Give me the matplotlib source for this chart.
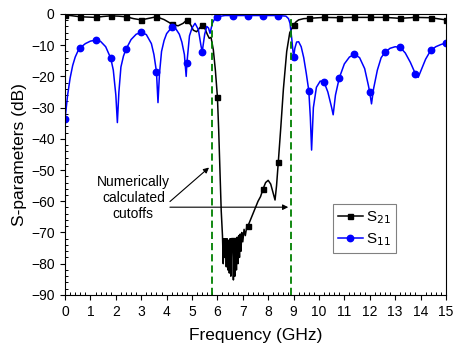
import numpy as np
import matplotlib
matplotlib.use('Agg')
import matplotlib.pyplot as plt
from matplotlib.ticker import MultipleLocator

plt.rcParams['font.family'] = ['Liberation Sans', 'DejaVu Sans']

# ==== S21 (transmission) ====
s21_freq = [0.0, 0.3, 0.6, 0.9, 1.2, 1.5, 1.8, 2.1, 2.4, 2.7, 3.0, 3.3, 3.6, 3.9, 4.2,
            4.45, 4.65, 4.8, 4.95, 5.05, 5.18, 5.3, 5.4, 5.5, 5.6, 5.68, 5.75, 5.84,
            5.92, 6.0, 6.05, 6.1, 6.15, 6.2,
            6.23, 6.26, 6.29, 6.32, 6.35, 6.38, 6.41, 6.44, 6.47, 6.5, 6.53, 6.56,
            6.6, 6.63, 6.66, 6.69, 6.72, 6.75, 6.78, 6.81, 6.84, 6.87, 6.9, 6.93,
            6.96, 7.0, 7.05, 7.1, 7.15, 7.2, 7.3, 7.4, 7.5, 7.6, 7.7, 7.8, 7.9, 8.0,
            8.1, 8.2, 8.27, 8.33, 8.4, 8.5, 8.6, 8.73, 8.85, 9.0, 9.1, 9.2, 9.4, 9.6,
            10.2, 10.8, 11.4, 12.0, 12.6, 13.2, 13.8, 14.4, 15.0]
s21_db = [-0.3, -0.6, -0.9, -1.0, -1.1, -0.8, -0.6, -0.7, -0.9, -1.5, -1.9, -1.4, -0.9, -1.8, -3.2,
          -3.8, -3.0, -1.9, -3.5, -5.2, -5.7, -4.5, -3.5, -4.5, -6.5, -7.8, -7.5, -11.5,
          -18, -26.5, -37, -50, -63, -71,
          -80, -72, -78, -72, -81, -72, -82, -72.5, -83, -72, -84, -72,
          -72.4, -85.2, -73, -84, -72, -82, -71.5, -80, -71, -78, -70.5, -76,
          -70, -73, -69, -71, -68.5, -68, -66, -64, -62, -60, -58.5, -56, -54, -53.3,
          -54.5, -57.5, -59.6, -55, -47.3, -36, -24, -12, -6, -3.5, -2.5, -1.9, -1.5, -1.4,
          -1.1, -1.2, -1.1, -1.1, -1.1, -1.4, -1.1, -1.2, -1.9]

# ==== S11 (reflection) ====
s11_freq = [0.0, 0.1, 0.2, 0.3, 0.4, 0.5, 0.6, 0.8, 1.0, 1.2, 1.4, 1.6, 1.8, 1.9, 2.0,
            2.06, 2.12, 2.2, 2.3, 2.4, 2.6, 2.8, 3.0, 3.2, 3.4, 3.5, 3.6, 3.66, 3.72,
            3.8, 3.9, 4.0, 4.2, 4.35, 4.5, 4.6, 4.7, 4.77, 4.8, 4.9, 5.0, 5.12, 5.25,
            5.35, 5.4, 5.5, 5.58, 5.65, 5.71, 5.8, 5.87, 6.0, 6.3, 6.6, 7.2, 7.8, 8.4,
            8.7, 8.8, 8.86, 8.93, 9.0, 9.05, 9.12, 9.2, 9.3, 9.4, 9.5, 9.6, 9.66, 9.71,
            9.78, 9.9, 10.05, 10.2, 10.35, 10.5, 10.56, 10.65, 10.8, 11.0, 11.2, 11.4,
            11.6, 11.8, 11.95, 12.0, 12.07, 12.15, 12.3, 12.45, 12.6, 12.8, 13.0, 13.2,
            13.4, 13.6, 13.8, 13.91, 14.0, 14.2, 14.4, 14.6, 14.8, 15.0]
s11_db = [-33.6, -26, -20.5, -16.5, -13.8, -12, -10.8, -9.5, -8.7, -8.4, -8.8, -10.5, -14.2, -18, -26,
          -34.8, -25, -17, -13.5, -11.3, -8.2, -6.5, -5.9, -6.6, -9.5, -13, -18.5, -28.4, -19,
          -12, -8.5, -6.3, -4.3, -4.6, -6.5, -9, -13, -20, -15.6, -7, -4.5, -3, -5,
          -10, -12.2, -6.5, -4, -4.5, -6.2, -3, -1.9, -0.9, -0.5, -0.5, -0.5, -0.5, -0.5,
          -0.7, -1.5, -3, -8, -13.9, -11, -9, -8.9, -10.5, -14, -19, -24.6, -33, -43.6,
          -30, -23.5, -21.5, -21.8, -25, -30, -32.3, -26, -20.5, -16, -13.8, -12.9,
          -14, -17.5, -23, -25.1, -28.8, -24, -18, -14, -12.3, -11, -10.5, -10.7,
          -12.5, -15.5, -19.2, -20.3, -18.5, -14.5, -11.7, -10.5, -9.8, -9.3]

# Numerically calculated cutoff frequencies (GHz)
cutoffs = [5.77, 8.88]


def marker_idx(freq, step=0.6):
    # markers sit on every 0.6 GHz sample
    f = np.asarray(freq)
    return list(np.where(np.abs(f / step - np.round(f / step)) < 1e-6)[0])


fig = plt.figure(figsize=(4.55, 3.49), dpi=100)
ax = fig.add_axes([0.143, 0.155, 0.837, 0.805])

ax.plot(s21_freq, s21_db, color='black', linewidth=1.1, marker='s', markersize=3.6,
        markevery=marker_idx(s21_freq), label='S$_{21}$')
ax.plot(s11_freq, s11_db, color='#0000ff', linewidth=1.1, marker='o', markersize=4.6,
        markevery=marker_idx(s11_freq), label='S$_{11}$')

for c in cutoffs:
    ax.axvline(c, color='#008000', linestyle=(0, (4.0, 2.2)), linewidth=1.3)

ax.set_xlim(0, 15)
ax.set_ylim(-90, 0)
ax.xaxis.set_major_locator(MultipleLocator(1))
ax.xaxis.set_minor_locator(MultipleLocator(0.2))
ax.yaxis.set_major_locator(MultipleLocator(10))
ax.yaxis.set_minor_locator(MultipleLocator(2))
ax.tick_params(which='major', direction='out', length=3.5, width=0.8, labelsize=10, pad=4)
ax.tick_params(which='minor', direction='in', length=2.5, width=0.7)

ax.set_xlabel('Frequency (GHz)', fontsize=12.5, labelpad=6)
ax.set_ylabel('S-parameters (dB)', fontsize=12.5, labelpad=3)

# annotation with the two arrows
ax.text(2.69, -59.0, 'Numerically\ncalculated\ncutoffs', ha='center', va='center', fontsize=10)
arrow = dict(arrowstyle='-|>', color='black', lw=0.8, mutation_scale=8, shrinkA=0, shrinkB=0)
ax.annotate('', xy=(5.67, -49.2), xytext=(4.13, -60.1), arrowprops=arrow)
ax.annotate('', xy=(8.79, -61.9), xytext=(4.13, -61.9), arrowprops=arrow)

leg = ax.legend(loc='upper left', bbox_to_anchor=(0.703, 0.324), borderaxespad=0,
                fontsize=11, fancybox=False, edgecolor='#808080', framealpha=1,
                handlelength=1.6, handletextpad=0.2, borderpad=0.35, labelspacing=0.35)
leg.get_frame().set_linewidth(0.8)

plt.savefig('out.png', dpi=100)
